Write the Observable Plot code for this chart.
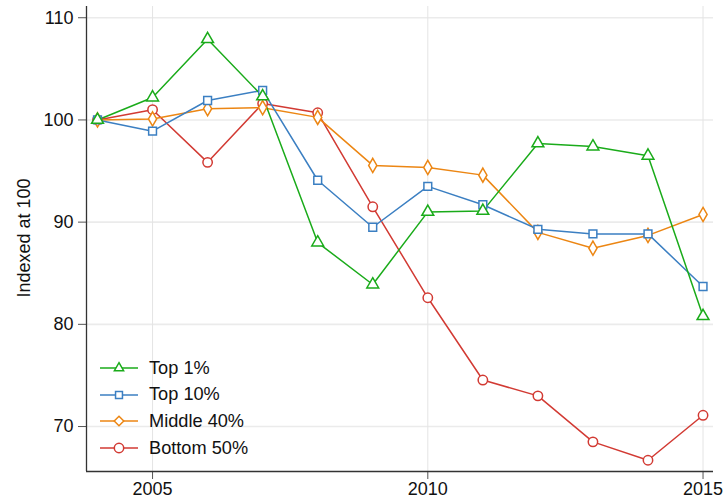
<!DOCTYPE html>
<html>
<head>
<meta charset="utf-8">
<script src="https://cdn.jsdelivr.net/npm/d3@7"></script>
<script src="https://cdn.jsdelivr.net/npm/@observablehq/plot@0.6"></script>
<style>
  body { margin: 0; background: #fff; font-family: "Liberation Sans", Arial, sans-serif; }
  #wrap { position: relative; width: 724px; height: 502px; }
  #legend { position: absolute; left: 100px; top: 355px; font-size: 18.2px; color: #111; }
  #legend .row { display: flex; align-items: center; height: 26.6px; }
  #legend svg { margin-right: 11px; }
</style>
</head>
<body>
<div id="wrap"><div id="chart"></div><div id="legend"></div></div>
<script>
const years = [2004, 2005, 2006, 2007, 2008, 2009, 2010, 2011, 2012, 2013, 2014, 2015];
const top1 = [100, 102.2, 107.9, 102.3, 88.0, 83.9, 91.0, 91.1, 97.7, 97.4, 96.5, 80.8];
const top10 = [100, 98.9, 101.9, 102.9, 94.1, 89.5, 93.5, 91.7, 89.3, 88.85, 88.85, 83.7];
const middle40 = [100, 100.1, 101.1, 101.2, 100.25, 95.55, 95.35, 94.6, 89.0, 87.45, 88.7, 90.75];
const bottom50 = [100, 101.0, 95.85, 101.6, 100.7, 91.5, 82.6, 74.55, 73.0, 68.5, 66.7, 71.1];
const seriesNames = ["Top 1%", "Top 10%", "Middle 40%", "Bottom 50%"];
const seriesValues = [top1, top10, middle40, bottom50];
const colors = ["#1aab1a", "#3b7fc2", "#ec8613", "#d23a33"];
const symbols = ["triangle", "square", "diamond", "circle"];
const radii = [4.4, 4.4, 4.3, 4.7];
const yTicks = [70, 80, 90, 100, 110];
const xTicks = [2005, 2010, 2015];
const xDomain = [2003.8, 2015.19];
const yDomain = [65.6, 111.1];

const data = seriesNames.flatMap((name, i) =>
  years.map((year, j) => ({ series: name, year, value: seriesValues[i][j] })));

// draw order: last series first so Top 1% sits on top
const order = [3, 2, 1, 0];
const marks = [
  Plot.gridY(yTicks, { stroke: "#ebebeb", strokeWidth: 1.6, strokeOpacity: 1 }),
  Plot.gridX(xTicks, { stroke: "#e4e4e4", strokeWidth: 1, strokeOpacity: 1 }),
  Plot.axisY(yTicks, { tickSize: 8, tickPadding: 5, stroke: "#555", fontSize: 18, fill: "#111",
    label: null }),
  Plot.axisX(xTicks, { tickSize: 8, tickPadding: 3, stroke: "#555", fontSize: 18, fill: "#111",
    tickFormat: d3.format("d"), label: null }),
  Plot.ruleX([xDomain[0]], { stroke: "#333", strokeWidth: 1.3 }),
  Plot.ruleY([yDomain[0]], { stroke: "#333", strokeWidth: 1.3 })
];
for (const i of order) {
  const d = data.filter(r => r.series === seriesNames[i]);
  marks.push(Plot.line(d, { x: "year", y: "value", stroke: colors[i], strokeWidth: 1.5 }));
}
for (const i of order) {
  const d = data.filter(r => r.series === seriesNames[i]);
  marks.push(Plot.dot(d, { x: "year", y: "value", symbol: () => symbols[i], r: radii[i],
    stroke: colors[i], fill: "white", strokeWidth: 1.5 }));
}

const chart = Plot.plot({
  width: 724,
  height: 502,
  marginLeft: 86,
  marginRight: 11,
  marginTop: 6,
  marginBottom: 31,
  style: { fontFamily: "'Liberation Sans', Arial, sans-serif", background: "white", overflow: "visible" },
  x: { domain: xDomain },
  y: { domain: yDomain },
  symbol: { type: "identity" },
  marks
});
document.getElementById("chart").appendChild(chart);

// Y axis title
const svg = d3.select(chart);
svg.append("text")
  .attr("transform", "translate(24,238) rotate(-90)")
  .attr("text-anchor", "middle")
  .attr("dominant-baseline", "central")
  .attr("font-size", 18)
  .attr("fill", "#111")
  .text("Indexed at 100");

// Legend
const legend = d3.select("#legend");
const symbolMap = { triangle: d3.symbolTriangle2, square: d3.symbolSquare2, diamond: d3.symbolDiamond2, circle: d3.symbolCircle };
seriesNames.forEach((name, i) => {
  const row = legend.append("div").attr("class", "row");
  const s = row.append("svg").attr("width", 38).attr("height", 14);
  s.append("line").attr("x1", 0).attr("x2", 38).attr("y1", 7).attr("y2", 7)
    .attr("stroke", colors[i]).attr("stroke-width", 1.5);
  const area = Math.PI * radii[i] * radii[i];
  s.append("path").attr("transform", "translate(19,7)")
    .attr("d", d3.symbol(symbolMap[symbols[i]], area)())
    .attr("fill", "white").attr("stroke", colors[i]).attr("stroke-width", 1.5);
  row.append("span").text(name);
});
</script>
</body>
</html>
